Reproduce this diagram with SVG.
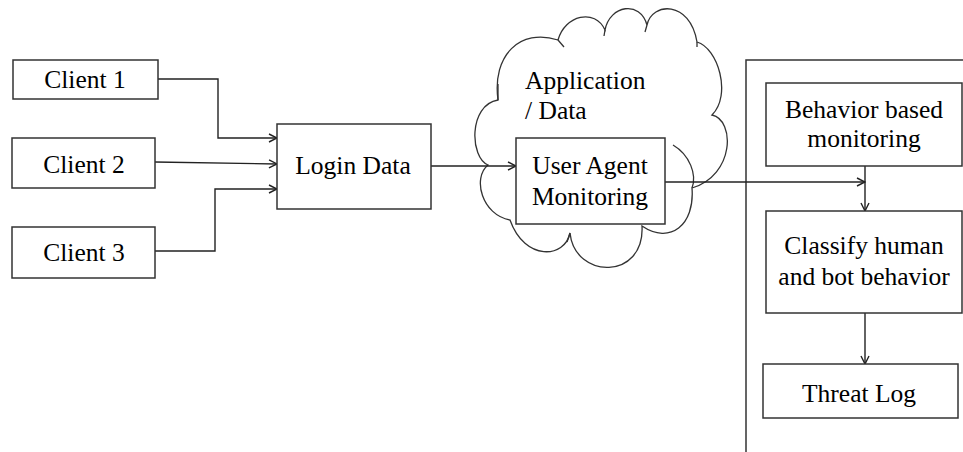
<svg xmlns="http://www.w3.org/2000/svg" width="963" height="452" viewBox="0 0 963 452">
<defs>
<style>
.box{fill:#fff;stroke:#333;stroke-width:1.5}
.t{font-size:25.5px;fill:#000;text-anchor:middle}
.c{fill:none;stroke:#222;stroke-width:1.4}
.cl{fill:none;stroke:#333;stroke-width:1.3}
</style>
<marker id="ah" markerWidth="10" markerHeight="10" refX="9" refY="5" orient="auto" markerUnits="userSpaceOnUse">
<path d="M1,1 L9,5 L1,9" fill="none" stroke="#222" stroke-width="1.4"/>
</marker>
</defs>
<rect width="963" height="452" fill="#fff"/>
<g font-family="Liberation Serif, Times New Roman, DejaVu Serif, serif">
<g id="cloud">
<path d="M498,100 C492,55 520,28 558,40 C565,15 595,8 605,30 C610,5 640,0 647,25 C652,2 690,0 697,42 C718,48 732,95 712,115 C735,120 735,175 692,188 C695,225 670,245 642,226 C645,280 575,280 570,233 C565,258 525,262 510,220 C482,215 472,178 488,165 C470,158 468,105 498,100 Z" fill="#fff" stroke="#333" stroke-width="1.3"/>
<path class="cl" d="M673,145 C690,155 697,175 692,188"/>
<path class="cl" d="M498,100 L498,84 M558,40 L564,47 M605,30 L604,36 M647,25 L645,32 M697,42 L697,47 M570,233 L567,242"/>
<text class="t" x="525" y="89" text-anchor="start" style="text-anchor:start">Application</text>
<text class="t" x="525" y="119" text-anchor="start" style="text-anchor:start">/ Data</text>
</g>

<g id="panel">
<path d="M746,452 V60 H963" fill="none" stroke="#333" stroke-width="1.5"/>
</g>

<g id="connectors">
<path class="c" d="M158,79 H218 V138 H277" marker-end="url(#ah)"/>
<path class="c" d="M155,162 L277,164" marker-end="url(#ah)"/>
<path class="c" d="M155,251 H215 V189 H277" marker-end="url(#ah)"/>
<path class="c" d="M431,166 H516" marker-end="url(#ah)"/>
<path class="c" d="M665,182 H865" marker-end="url(#ah)"/>
<path class="c" d="M865,166 V211" marker-end="url(#ah)"/>
<path class="c" d="M865,313 V364" marker-end="url(#ah)"/>
</g>

<g id="client1"><rect class="box" x="13" y="60" width="145" height="39"/><text class="t" x="85" y="88">Client 1</text></g>
<g id="client2"><rect class="box" x="12" y="138" width="143" height="50"/><text class="t" x="84" y="173">Client 2</text></g>
<g id="client3"><rect class="box" x="12" y="227" width="143" height="51"/><text class="t" x="84" y="261">Client 3</text></g>
<g id="login"><rect class="box" x="277" y="124" width="154" height="85"/><text class="t" x="353" y="174">Login Data</text></g>
<g id="useragent"><rect class="box" x="516" y="138" width="149" height="86"/><text class="t" x="590" y="174">User Agent</text><text class="t" x="590" y="205">Monitoring</text></g>
<g id="behavior"><rect class="box" x="766" y="83" width="196" height="83"/><text class="t" x="864" y="118">Behavior based</text><text class="t" x="864" y="147">monitoring</text></g>
<g id="classify"><rect class="box" x="766" y="211" width="196" height="102"/><text class="t" x="864" y="254">Classify human</text><text class="t" x="864" y="285">and bot behavior</text></g>
<g id="threat"><rect class="box" x="763" y="364" width="195" height="54"/><text class="t" x="859" y="402">Threat Log</text></g>
</g>
</svg>
